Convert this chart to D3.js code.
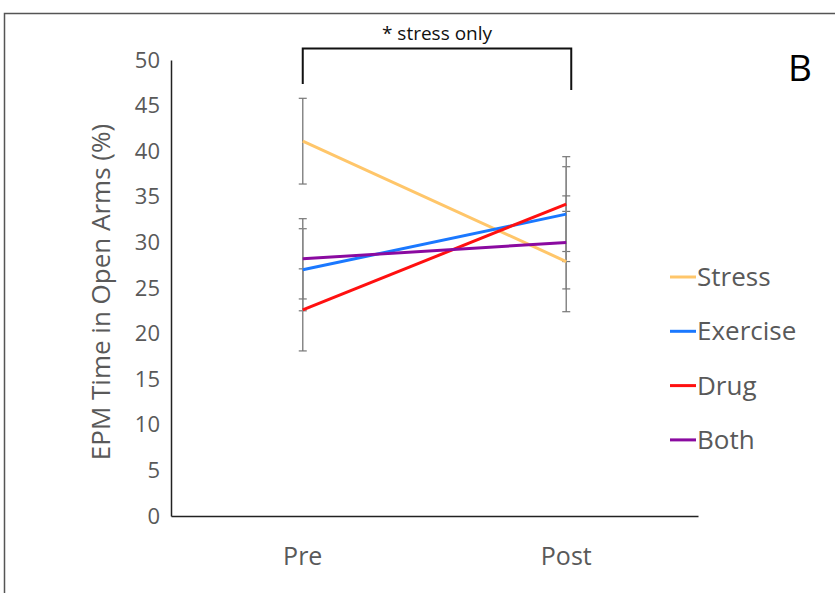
<!DOCTYPE html>
<html>
<head>
<meta charset="utf-8">
<script src="https://cdn.jsdelivr.net/npm/d3@7"></script>
<style>
  body { margin: 0; background: #fff; }
  svg text { font-family: "Open Sans", sans-serif; }
</style>
</head>
<body>
<div id="chart"></div>
<script>
// data
const timepoints = ["Pre", "Post"];
const groups = ["Stress", "Exercise", "Drug", "Both"];
const stressVals = [41.1, 27.9];
const exerciseVals = [27.0, 33.1];
const drugVals = [22.6, 34.2];
const bothVals = [28.2, 30.0];
const stressErr = [4.7, 5.5];
const exerciseErr = [4.5, 5.2];
const drugErr = [4.5, 5.2];
const bothErr = [4.4, 5.1];
const yTicks = [0, 5, 10, 15, 20, 25, 30, 35, 40, 45, 50];
const colors = ["#ffc66a", "#1a78ff", "#ff1010", "#8a0aa0"];

const series = [
  { name: groups[0], values: stressVals, err: stressErr, color: colors[0] },
  { name: groups[1], values: exerciseVals, err: exerciseErr, color: colors[1] },
  { name: groups[2], values: drugVals, err: drugErr, color: colors[2] },
  { name: groups[3], values: bothVals, err: bothErr, color: colors[3] }
];

const W = 835, H = 593;
const svg = d3.select("#chart").append("svg")
  .attr("width", W)
  .attr("height", H);

// outer frame (right and bottom edges run off the picture)
svg.append("path")
  .attr("d", `M4.5,${H + 5} V13.5 H${W + 5}`)
  .attr("fill", "none")
  .attr("stroke", "#555")
  .attr("stroke-width", 1.5);

const plotL = 171, plotR = 698, plotT = 60, plotB = 516;

const xScale = d3.scaleBand()
  .domain(timepoints)
  .range([plotL, plotR]);
const yScale = d3.scaleLinear()
  .domain([0, 50])
  .range([plotB, plotT]);
const xc = d => xScale(d) + xScale.bandwidth() / 2;

// y axis
let yAxis = svg.append("g")
  .attr("transform", `translate(${plotL},0)`)
  .call(d3.axisLeft(yScale).tickValues(yTicks).tickSize(0).tickPadding(11));
yAxis.select(".domain").attr("stroke", "#222").attr("stroke-width", 1.5);
yAxis.selectAll("text").attr("font-size", 22).attr("fill", "#595959");

// x axis
let xAxis = svg.append("g")
  .attr("transform", `translate(0,${plotB})`)
  .call(d3.axisBottom(xScale).tickSize(0).tickPadding(31));
xAxis.select(".domain").attr("stroke", "#222").attr("stroke-width", 1.5);
xAxis.selectAll("text").attr("font-size", 25).attr("fill", "#595959");

// y title
svg.append("text")
  .attr("transform", `translate(110,${(plotT + plotB) / 2 + 4}) rotate(-90)`)
  .attr("text-anchor", "middle")
  .attr("font-size", 26)
  .attr("fill", "#595959")
  .text("EPM Time in Open Arms (%)");

// error bars
const errG = svg.append("g");
series.forEach(s => {
  timepoints.forEach((t, i) => {
    const x = xc(t);
    const y0 = yScale(s.values[i] - s.err[i]);
    const y1 = yScale(s.values[i] + s.err[i]);
    errG.append("line")
      .attr("x1", x).attr("x2", x).attr("y1", y0).attr("y2", y1)
      .attr("stroke", "#888").attr("stroke-width", 1.5);
    [y0, y1].forEach(y => {
      errG.append("line")
        .attr("x1", x - 4).attr("x2", x + 4).attr("y1", y).attr("y2", y)
        .attr("stroke", "#777").attr("stroke-width", 1.2);
    });
  });
});

// lines
const line = d3.line()
  .x((d, i) => xc(timepoints[i]))
  .y(d => yScale(d));
svg.append("g").selectAll("path")
  .data(series)
  .join("path")
  .attr("d", d => line(d.values))
  .attr("fill", "none")
  .attr("stroke", d => d.color)
  .attr("stroke-width", 3);

// legend
const legend = svg.append("g").selectAll("g")
  .data(series)
  .join("g")
  .attr("transform", (d, i) => `translate(670,${277 + i * 54.3})`);
legend.append("line")
  .attr("x1", 0).attr("x2", 26)
  .attr("stroke", d => d.color)
  .attr("stroke-width", 3);
legend.append("text")
  .attr("x", 27)
  .attr("dy", "0.35em")
  .attr("font-size", 26)
  .attr("fill", "#595959")
  .text(d => d.name);

// significance bracket
const bx0 = xc("Pre"), bx1 = xc("Post") + 5;
svg.append("path")
  .attr("d", `M${bx0},84 V48.5 H${bx1} V90`)
  .attr("fill", "none")
  .attr("stroke", "#111")
  .attr("stroke-width", 2);
svg.append("text")
  .attr("x", (bx0 + bx1) / 2)
  .attr("y", 40)
  .attr("text-anchor", "middle")
  .attr("font-size", 19)
  .attr("fill", "#111")
  .text("* stress only");

// panel letter
svg.append("text")
  .attr("x", 800)
  .attr("y", 81)
  .attr("text-anchor", "middle")
  .attr("font-size", 37)
  .attr("fill", "#000")
  .text("B");
</script>
</body>
</html>
